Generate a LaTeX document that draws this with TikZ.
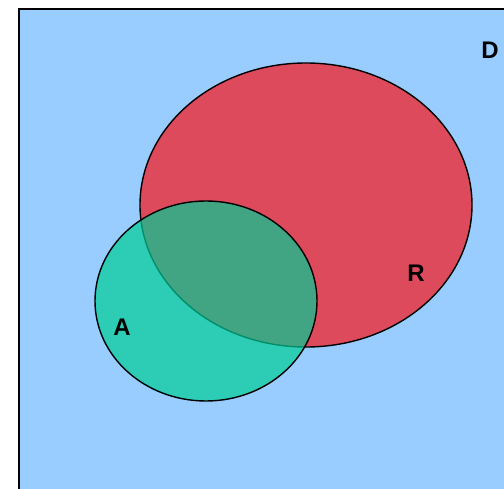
\documentclass[tikz,border=0pt]{standalone}
\usepackage{fontspec}
\setmainfont{Liberation Sans}
\definecolor{bgblue}{RGB}{153,204,255}
\definecolor{setred}{RGB}{220,74,92}
\definecolor{setgreen}{RGB}{0,204,150}
\tikzset{
  setlabel/.style={font=\fontsize{24}{28}\selectfont\bfseries, inner sep=0pt},
  setborder/.style={draw=black, line width=1.4pt}
}
\begin{document}
\begin{tikzpicture}[x=1pt,y=-1pt]
\useasboundingbox (0,0) rectangle (504,489);
\clip (0,0) rectangle (504,489);
\draw[fill=bgblue, line width=2pt] (19,9) rectangle (520,510);
\node[setlabel] (D) at (490,50) {D};
\draw[setborder, fill=setred] (306,205) ellipse [x radius=166, y radius=142];
\node[setlabel] (R) at (416,273) {R};
\fill[setgreen, fill opacity=0.7] (206,301) ellipse [x radius=111, y radius=100];
\draw[line width=1.4pt] (206,301) ellipse [x radius=111, y radius=100];
\node[setlabel] (A) at (122,327) {A};
\end{tikzpicture}
\end{document}
